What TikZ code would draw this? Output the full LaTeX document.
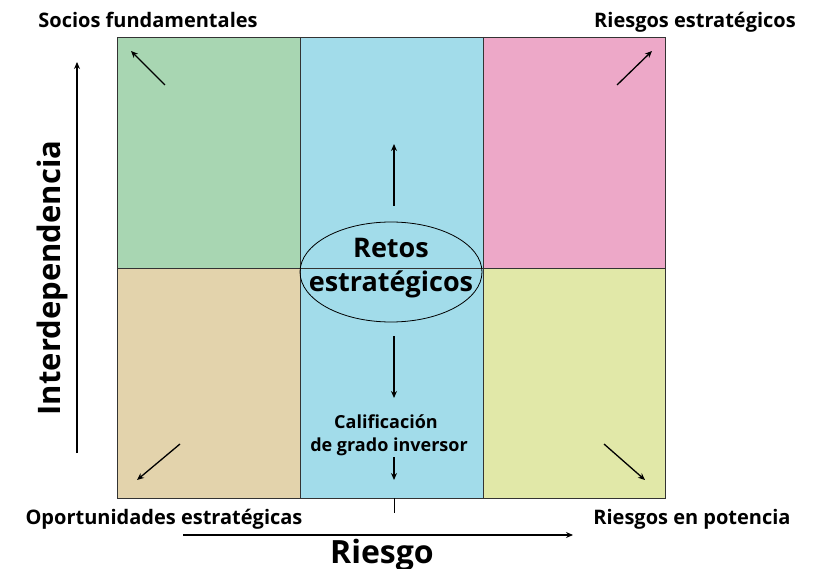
\documentclass[tikz,border=0pt]{standalone}
\usepackage{fontspec}
\setmainfont{Open Sans}
\usetikzlibrary{arrows.meta}
\definecolor{cgreen}{HTML}{A8D6B2}
\definecolor{cblue}{HTML}{A2DCEA}
\definecolor{cpink}{HTML}{EDA8C8}
\definecolor{ctan}{HTML}{E3D3AC}
\definecolor{cyel}{HTML}{E1E8A8}
\definecolor{cline}{HTML}{333333}
\begin{document}
\begin{tikzpicture}[x=1pt,y=-1pt,
  arr/.style={line width=1.3pt,-{Stealth[length=7pt,width=6pt]}},
  grid/.style={draw=cline,line width=0.9pt},
  lab/.style={font=\bfseries\fontsize{20}{22}\selectfont,anchor=base,inner sep=0pt},
  big/.style={font=\bfseries\fontsize{31}{34}\selectfont,anchor=base,inner sep=0pt},
  mid/.style={font=\bfseries\fontsize{27}{30}\selectfont,anchor=base,inner sep=0pt},
  small/.style={font=\bfseries\fontsize{18}{20}\selectfont,anchor=base,inner sep=0pt}]
\useasboundingbox (0,0) rectangle (819,569);
% cells
\fill[cgreen] (117,37) rectangle (300,268);
\fill[cblue] (300,37) rectangle (483,498);
\fill[cpink] (483,37) rectangle (665,268);
\fill[ctan] (117,268) rectangle (300,498);
\fill[cyel] (483,268) rectangle (665,498);
\draw[grid] (117,37) rectangle (665,498);
\draw[grid] (300,37) -- (300,498);
\draw[grid] (483,37) -- (483,498);
\draw[grid] (117,268) -- (665,268);
\draw[line width=0.8pt] (394,498) -- (394,513);
% ellipse
\draw[line width=0.8pt] (391,272) ellipse [x radius=91, y radius=50];
\node[mid] (retos) at (391,258) {Retos};
\node[mid] (estr) at (391,292) {estratégicos};
% labels
\node[lab] (socios) at (148,28) {Socios fundamentales};
\node[lab] (rest) at (695,28) {Riesgos estratégicos};
\node[lab] (oport) at (164,524) {Oportunidades estratégicas};
\node[lab] (rpot) at (692,524) {Riesgos en potencia};
\node[small] (calif) at (386,428) {Calificación};
\node[small] (grado) at (389,451) {de grado inversor};
\node[font=\bfseries\fontsize{32}{34}\selectfont,anchor=base,inner sep=0pt] (riesgo) at (382,563) {Riesgo};
\node[big,rotate=90] (inter) at (60,278) {Interdependencia};
% arrow coordinates
\coordinate (a1s) at (165,85); \coordinate (a1e) at (131,51);
\coordinate (a2s) at (617,85); \coordinate (a2e) at (652,51);
\coordinate (a3s) at (394,206); \coordinate (a3e) at (394,144);
\coordinate (a4s) at (394,336); \coordinate (a4e) at (394,398);
\coordinate (a5s) at (180,444); \coordinate (a5e) at (137,480);
\coordinate (a6s) at (604,444); \coordinate (a6e) at (645,480);
\coordinate (a7s) at (394,457); \coordinate (a7e) at (394,480);
\coordinate (xs) at (183,535); \coordinate (xe) at (573,535);
\coordinate (ys) at (77,453); \coordinate (ye) at (77,62);
\draw[arr] (a1s) -- (a1e);
\draw[arr] (a2s) -- (a2e);
\draw[arr] (a3s) -- (a3e);
\draw[arr] (a4s) -- (a4e);
\draw[arr] (a5s) -- (a5e);
\draw[arr] (a6s) -- (a6e);
\draw[arr] (a7s) -- (a7e);
\draw[arr] (xs) -- (xe);
\draw[arr] (ys) -- (ye);
\end{tikzpicture}
\end{document}
